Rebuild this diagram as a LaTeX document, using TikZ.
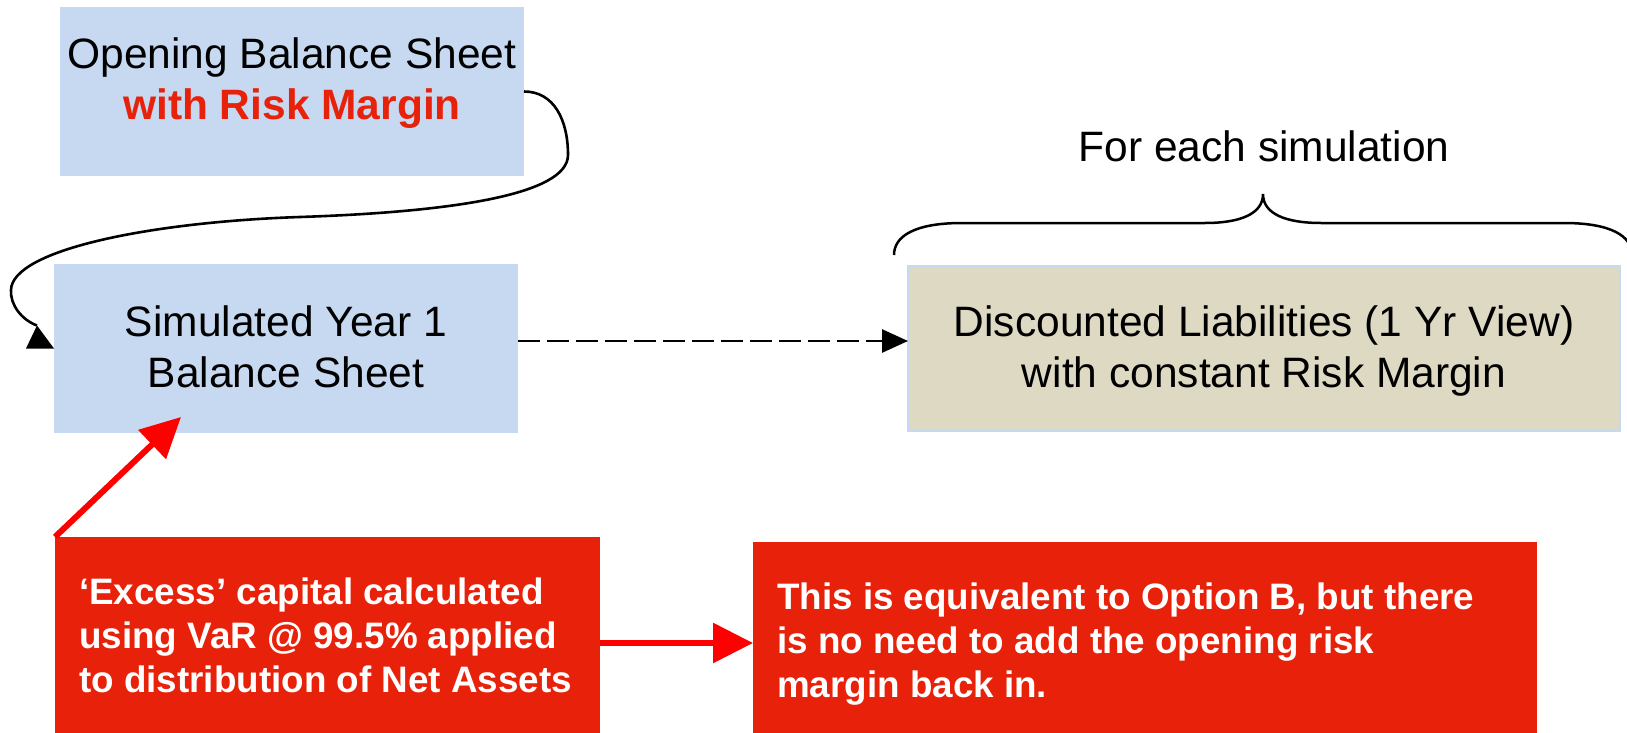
\documentclass[tikz,border=0pt]{standalone}
\usepackage{fontspec}
\setmainfont{Liberation Sans}
\usetikzlibrary{arrows.meta,calc}
\definecolor{paleblue}{HTML}{C6D9F1}
\definecolor{paletan}{HTML}{DDD9C3}
\definecolor{boxred}{HTML}{E8210A}
\definecolor{arrowred}{HTML}{FF0000}
\begin{document}
\begin{tikzpicture}[x=1pt,y=-1pt,
  bluebox/.style={fill=paleblue, draw=none, inner sep=0pt, outer sep=0pt},
  tanbox/.style={fill=paletan, draw=paleblue, line width=2pt, inner sep=0pt, outer sep=0pt},
  redbox/.style={fill=boxred, draw=none, inner sep=0pt, outer sep=0pt},
  bigtext/.style={font=\fontsize{42.5}{51}\selectfont, inner sep=0pt, anchor=base},
  redlabel/.style={font=\fontsize{42.5}{51}\selectfont\bfseries, text=boxred, inner sep=0pt, anchor=base},
  whitetext/.style={font=\fontsize{36.8}{44}\selectfont\bfseries, text=white, inner sep=0pt, anchor=base west},
  curveline/.style={draw=black, line width=2.6pt},
  dasharrow/.style={draw=black, line width=2.7pt, dash pattern=on 21.5pt off 7.5pt,
    -{Triangle[length=26pt,width=23pt]}},
  redarrow/.style={draw=arrowred, line width=6pt, -{Triangle[length=40pt,width=39pt]}},
  bracestyle/.style={draw=black, line width=2.5pt}]
\useasboundingbox (0,0) rectangle (1627,733);

% boxes
\node[bluebox, minimum width=464pt, minimum height=169pt] (A) at (292,91.5) {};
\node[bluebox, minimum width=464pt, minimum height=169pt] (B) at (286,348.5) {};
\node[tanbox, minimum width=712pt, minimum height=165pt] (C) at (1264,348.5) {};
\node[redbox, minimum width=545pt, minimum height=200pt] (D) at (327.5,637) {};
\node[redbox, minimum width=784pt, minimum height=195pt] (E) at (1145,639.5) {};

% box texts
\node[bigtext] (a1) at (292,69) {Opening Balance Sheet};
\node[redlabel] (a2) at (292,120) {with Risk Margin};
\node[bigtext] (b1) at (286,336) {Simulated Year 1};
\node[bigtext] (b2) at (286,387) {Balance Sheet};
\node[bigtext] (c1) at (1264,336) {Discounted Liabilities (1 Yr View)};
\node[bigtext] (c2) at (1264,387) {with constant Risk Margin};
\node[bigtext] (lab) at (1264,161) {For each simulation};
\node[whitetext] (d1) at (79,604) {‘Excess’ capital calculated};
\node[whitetext] (d2) at (79,648) {using VaR @ 99.5\% applied};
\node[whitetext] (d3) at (79,692) {to distribution of Net Assets};
\node[whitetext] (e1) at (777,609) {This is equivalent to Option B, but there};
\node[whitetext] (e2) at (777,653) {is no need to add the opening risk};
\node[whitetext] (e3) at (777,697) {margin back in.};

% brace over the simulation step
\draw[bracestyle] (894,255) .. controls (894,236) and (915,223) .. (962,223)
  -- (1205,223) .. controls (1240,223) and (1263,214) .. (1263,194)
  .. controls (1263,214) and (1286,223) .. (1321,223)
  -- (1564,223) .. controls (1611,223) and (1632,236) .. (1632,255);

% curved connector from the opening balance sheet
\coordinate (tipA) at ($(B.west)+(-17,-23)$);
\draw[curveline] (A.east) .. controls +(30,0) and (568,120) .. (568,155)
  .. controls (568,195) and (450,212) .. (300,217)
  .. controls (150,222) and (12,250) .. (11,290)
  .. controls (10,305) and (22,320) .. (tipA);
\fill ($(B.west)+(-28,0)$) -- (B.west) -- (tipA) -- cycle;

% dashed connector
\draw[dasharrow] ([yshift=7.5pt]B.east) -- ([yshift=7.5pt]C.west);

% red arrows
\coordinate (hit) at (181,417);
\draw[redarrow] (D.north west) -- (hit);
\draw[redarrow] ([yshift=-6pt]D.east) -- ([yshift=-6pt]D.east -| E.west);
\end{tikzpicture}
\end{document}
